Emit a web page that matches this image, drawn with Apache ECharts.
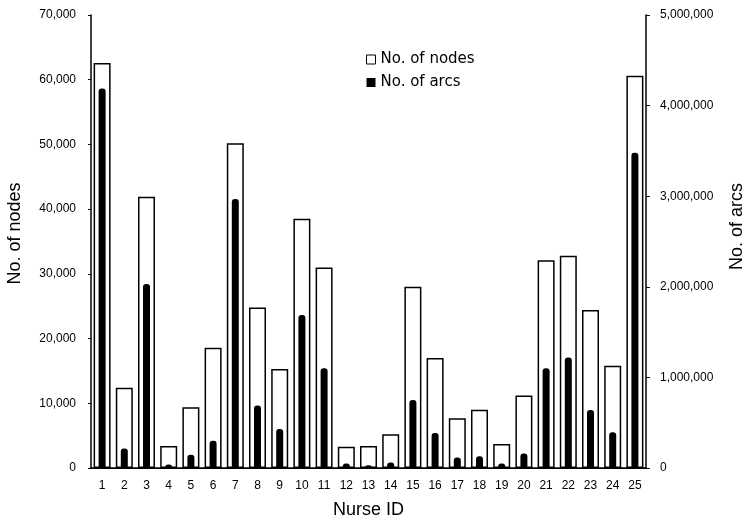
<!DOCTYPE html>
<html>
<head>
<meta charset="utf-8">
<script src="https://cdn.jsdelivr.net/npm/echarts@6/dist/echarts.min.js"></script>
<style>html,body{margin:0;padding:0;background:#fff}#c{width:745px;height:523px}</style>
</head>
<body>
<div id="c"></div>
<script>
const nurseIds = ['1','2','3','4','5','6','7','8','9','10','11','12','13','14','15','16','17','18','19','20','21','22','23','24','25'];
const nodes = [62600, 12400, 41900, 3400, 9400, 18600, 50200, 24800, 15300, 38500, 31000, 3300, 3400, 5200, 28000, 17000, 7700, 9000, 3700, 11200, 32100, 32800, 24400, 15800, 60600];
const arcs = [4190000, 215000, 2030000, 40000, 145000, 300000, 2970000, 690000, 430000, 1690000, 1100000, 50000, 30000, 60000, 750000, 385000, 115000, 130000, 50000, 160000, 1100000, 1220000, 640000, 395000, 3480000];
const leftTicks = {min: 0, max: 70000, interval: 10000};
const rightTicks = {min: 0, max: 5000000, interval: 1000000};

const fmt = v => v.toLocaleString('en-US');
const font = 'Liberation Sans, Arial, sans-serif';
const chart = echarts.init(document.getElementById('c'), null, {renderer: 'canvas'});
chart.setOption({
  animation: false,
  backgroundColor: '#fff',
  grid: {left: 91, right: 99, top: 15, bottom: 55, containLabel: false, outerBoundsMode: 'none'},
  legend: {
    orient: 'vertical', left: 366, top: 52, padding: 0, itemWidth: 9, itemHeight: 9, itemGap: 8,
    textStyle: {fontFamily: 'DejaVu Sans, sans-serif', fontSize: 15, color: '#000'},
    data: [
      {name: 'No. of nodes', icon: 'rect', itemStyle: {color: '#fff', borderColor: '#000', borderWidth: 1}},
      {name: 'No. of arcs', icon: 'rect', itemStyle: {color: '#000'}}
    ]
  },
  xAxis: [
    {type: 'category', data: nurseIds, position: 'bottom',
     name: 'Nurse ID', nameLocation: 'middle', nameGap: 33,
     nameTextStyle: {fontFamily: font, fontSize: 18, color: '#000'},
     axisLine: {lineStyle: {color: '#000', width: 1.5}}, axisTick: {show: false},
     axisLabel: {color: '#000', fontFamily: font, fontSize: 12, margin: 12}},
    {type: 'category', data: nurseIds, position: 'top',
     axisLine: {lineStyle: {color: '#000', width: 1}}, axisTick: {show: false}, axisLabel: {show: false}}
  ],
  yAxis: [
    {type: 'value', position: 'left', min: leftTicks.min, max: leftTicks.max, interval: leftTicks.interval,
     name: 'No. of nodes', nameLocation: 'middle', nameGap: 67,
     nameTextStyle: {fontFamily: font, fontSize: 18, color: '#000', padding: [0, 0, 0, 16]},
     axisLine: {show: true, lineStyle: {color: '#000', width: 1.5}},
     axisTick: {show: true, length: 3, lineStyle: {color: '#000'}},
     splitLine: {show: false},
     axisLabel: {color: '#000', fontFamily: font, fontSize: 12, margin: 15, formatter: fmt}},
    {type: 'value', position: 'right', min: rightTicks.min, max: rightTicks.max, interval: rightTicks.interval,
     name: 'No. of arcs', nameLocation: 'middle', nameGap: 82,
     nameTextStyle: {fontFamily: font, fontSize: 18, color: '#000', padding: [0, 0, 0, 30]},
     axisLine: {show: true, lineStyle: {color: '#000', width: 1.5}},
     axisTick: {show: true, length: 4, lineStyle: {color: '#000'}},
     splitLine: {show: false},
     axisLabel: {color: '#000', fontFamily: font, fontSize: 12, margin: 14, formatter: fmt}}
  ],
  series: [
    {name: 'No. of nodes', type: 'bar', xAxisIndex: 0, yAxisIndex: 0, data: nodes, barWidth: 17, z: 2,
     itemStyle: {color: '#fff', borderColor: '#000', borderWidth: 1.5}},
    {name: 'No. of arcs', type: 'bar', xAxisIndex: 1, yAxisIndex: 1, data: arcs, barWidth: 7, z: 3,
     itemStyle: {color: '#000', borderRadius: [3, 3, 0, 0]}}
  ]
});
</script>
</body>
</html>
